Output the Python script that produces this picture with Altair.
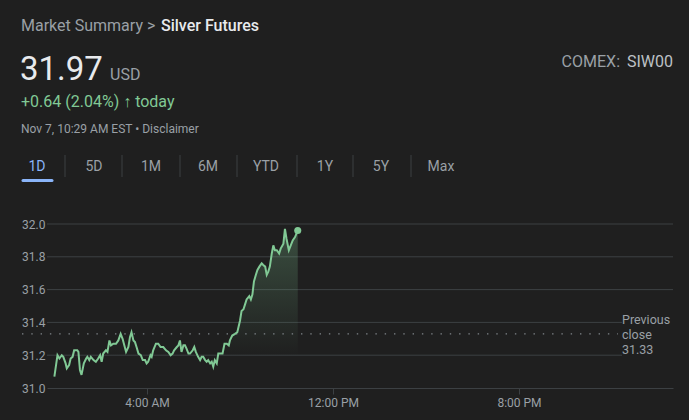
import altair as alt
import pandas as pd

# ---------------- data ----------------
times = ["0:01","0:09","0:14","0:20","0:24","0:30","0:33","0:39","0:43","0:48","0:52","1:00","1:03","1:07","1:11",
         "1:17","1:23","1:26","1:31","1:35","1:42","1:48","1:54","1:59","2:03","2:07","2:14","2:18","2:23","2:27",
         "2:33","2:40","2:46","2:52","2:57","3:06","3:12","3:16","3:20","3:25","3:29","3:33","3:38","3:44","3:49",
         "3:55","3:59","4:03","4:09","4:12","4:16","4:23","4:29","4:35","4:42","4:49","4:55","5:01","5:06","5:10",
         "5:17","5:21","5:25","5:29","5:34","5:38","5:42","5:47","5:51","5:58","6:02","6:06","6:12","6:17","6:21",
         "6:25","6:30","6:34","6:38","6:43","6:47","6:51","6:55","7:00","7:04","7:10","7:15","7:20","7:26","7:31",
         "7:34","7:40","7:47","7:53","8:00","8:04","8:09","8:13","8:17","8:24","8:28","8:32","8:36","8:41","8:45",
         "8:50","8:56","9:00","9:05","9:09","9:13","9:17","9:22","9:26","9:30","9:35","9:41","9:45","9:52","9:56",
         "10:00","10:06","10:11","10:16","10:22","10:29"]
prices = [31.07,31.20,31.18,31.20,31.19,31.15,31.12,31.14,31.18,31.19,31.23,31.23,31.22,31.11,31.08,
          31.15,31.18,31.19,31.17,31.19,31.17,31.16,31.18,31.20,31.16,31.21,31.23,31.22,31.29,31.26,
          31.27,31.27,31.29,31.33,31.30,31.22,31.25,31.31,31.34,31.29,31.28,31.25,31.21,31.20,31.17,
          31.17,31.15,31.16,31.20,31.19,31.23,31.27,31.27,31.25,31.25,31.23,31.22,31.20,31.21,31.23,
          31.25,31.26,31.29,31.22,31.26,31.26,31.24,31.21,31.21,31.23,31.25,31.22,31.19,31.17,31.19,
          31.19,31.17,31.16,31.17,31.15,31.16,31.13,31.17,31.15,31.21,31.21,31.21,31.27,31.27,31.26,
          31.29,31.32,31.33,31.34,31.41,31.47,31.48,31.51,31.54,31.56,31.54,31.57,31.65,31.69,31.72,
          31.74,31.76,31.75,31.74,31.69,31.71,31.74,31.82,31.87,31.84,31.84,31.82,31.85,31.88,31.97,
          31.91,31.84,31.87,31.90,31.92,31.96]
previous_close = 31.33
y_ticks = [31.0, 31.2, 31.4, 31.6, 31.8, 32.0]
grid_full = [31.6, 31.8, 32.0]
grid_short = [31.2, 31.4]
x_tick_minutes = [240, 720, 1200]
x_tick_labels = ["4:00 AM", "12:00 PM", "8:00 PM"]
tabs = ["1D", "5D", "1M", "6M", "YTD", "1Y", "5Y", "Max"]

def to_min(t):
    h, m = t.split(":")
    return int(h) * 60 + int(m)

df = pd.DataFrame({"minute": [to_min(t) for t in times], "price": prices})
last = df.tail(1)

# ---------------- layout ----------------
FONT = "Roboto"
BG = "#1f1f1f"
GREEN = "#81c995"
GRAY = "#9aa0a6"
WHITE = "#e8eaed"
GRID = "#3c4043"
L, T, W, H = 47, 224, 626, 164

label_expr = " : ".join(
    [f"datum.value == {m} ? '{s}'" for m, s in zip(x_tick_minutes, x_tick_labels)]) + " : ''"

xs = alt.Scale(domain=[-18.06, 1597.4], nice=False, zero=False)
ys = alt.Scale(domain=[31.0, 32.0], nice=False, zero=False)

x_axis = alt.Axis(values=x_tick_minutes, labelExpr=label_expr, title=None, grid=False,
                  domainColor=GRID, tickColor=GRID, tickSize=6, labelColor=GRAY,
                  labelFontSize=12, labelFont=FONT, labelPadding=3,
                  labelOverlap=False, labelFlush=False)
y_axis = alt.Axis(values=y_ticks, format=".1f", title=None, grid=False, domain=False,
                  ticks=False, labelColor=GRAY, labelFontSize=12, labelFont=FONT,
                  labelPadding=2, labelOverlap=False, labelFlush=False)

one = alt.Data(values=[{}])

def label(txt, px, py, size, color, weight=400, align="left"):
    return alt.Chart(one).mark_text(
        text=txt, fontSize=size, color=color, fontWeight=weight, align=align,
        baseline="alphabetic", font=FONT
    ).encode(x=alt.value(px - L), y=alt.value(py - T))

grid_a = alt.Chart(pd.DataFrame({"v": grid_full})).mark_rule(color=GRID, strokeWidth=1).encode(
    y=alt.Y("v:Q", scale=ys, axis=y_axis), x=alt.value(0), x2=alt.value(W))
grid_b = alt.Chart(pd.DataFrame({"v": grid_short})).mark_rule(color=GRID, strokeWidth=1).encode(
    y=alt.Y("v:Q", scale=ys, axis=y_axis), x=alt.value(0), x2=alt.value(575))

prev = alt.Chart(pd.DataFrame({"v": [previous_close]})).mark_rule(
    color="#80868b", strokeWidth=1.4, strokeDash=[1.4, 7.9]).encode(
    y=alt.Y("v:Q", scale=ys, axis=y_axis), x=alt.value(-25), x2=alt.value(571))

base = alt.Chart(df)

area = base.mark_area(
    line=False,
    color=alt.Gradient(
        gradient="linear", x1=0, y1=0, x2=0, y2=1,
        stops=[alt.GradientStop(color="rgba(129,201,149,0.28)", offset=0),
               alt.GradientStop(color="rgba(129,201,149,0.0)", offset=0.8)]),
).encode(
    x=alt.X("minute:Q", scale=xs, axis=x_axis),
    y=alt.Y("price:Q", scale=ys, axis=y_axis),
    y2=alt.datum(31.0),
)

line = base.mark_line(color=GREEN, strokeWidth=2, interpolate="linear").encode(
    x=alt.X("minute:Q", scale=xs, axis=x_axis), y=alt.Y("price:Q", scale=ys, axis=y_axis))

dot = alt.Chart(last).mark_circle(color=GREEN, opacity=1, size=50).encode(
    x=alt.X("minute:Q", scale=xs, axis=x_axis), y=alt.Y("price:Q", scale=ys, axis=y_axis))

prev_text = alt.Chart(one).mark_text(
    text=["Previous", "close", f"{previous_close:.2f}"], fontSize=12.5, color=GRAY, align="left",
    baseline="alphabetic", lineHeight=15, font=FONT
).encode(x=alt.value(622 - L), y=alt.value(324 - T))

headers = [
    label("Market Summary >", 21, 31, 16, GRAY),
    label("Silver Futures", 161, 31, 16, WHITE, 500),
    label("31.97", 20, 80, 33, WHITE),
    label("USD", 110, 80, 16, GRAY),
    label("+0.64 (2.04%) \u2191 today", 21, 107, 16, GREEN),
    label("Nov 7, 10:29 AM EST \u2022 Disclaimer", 21, 133, 12, GRAY),
    label("COMEX:", 620, 67, 16, GRAY, align="right"),
    label("SIW00", 673, 67, 16, "#bdc1c6", align="right"),
]

tab_centers = [37, 94, 151, 208, 266, 325, 381, 441]
tab_layers = []
for name, cx in zip(tabs, tab_centers):
    tab_layers.append(label(name, cx, 171, 14, "#8ab4f8" if name == "1D" else GRAY, align="center"))

seps = []
for sx in [65, 122, 180, 237, 297, 353, 411]:
    seps.append(alt.Chart(one).mark_rule(color=GRID, strokeWidth=1).encode(
        x=alt.value(sx - L), y=alt.value(155 - T), y2=alt.value(177 - T)))

underline = alt.Chart(one).mark_rule(color="#8ab4f8", strokeWidth=3, strokeCap="round").encode(
    x=alt.value(23 - L), x2=alt.value(52 - L), y=alt.value(180.5 - T))

chart = alt.layer(
    grid_a, grid_b, area, prev, line, dot, prev_text, underline, *seps, *headers, *tab_layers
).properties(
    width=W, height=H,
    autosize=alt.AutoSizeParams(type="none"),
    padding={"left": L, "top": T, "right": 689 - L - W, "bottom": 420 - T - H},
    background=BG,
).configure_view(stroke=None)

chart.save("out.html", embed_options={"renderer": "svg", "actions": False})
